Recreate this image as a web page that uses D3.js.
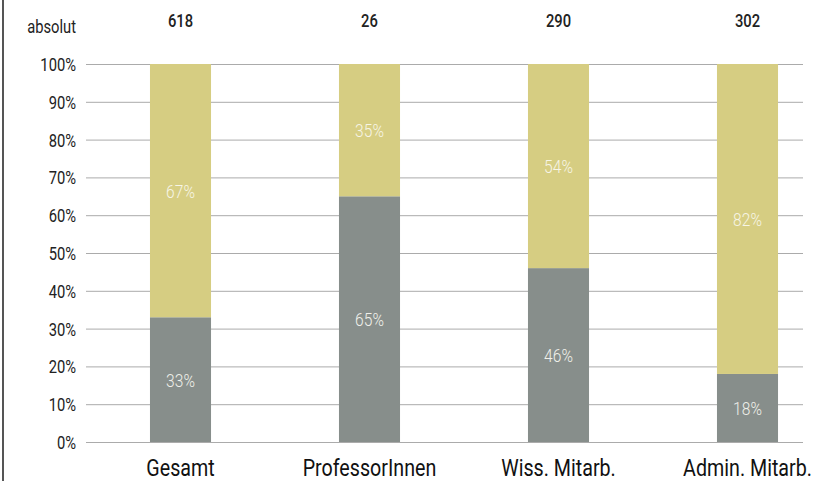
<!DOCTYPE html>
<html><head><meta charset="utf-8">
<script src="https://cdn.jsdelivr.net/npm/d3@7"></script>
<style>body{margin:0;background:#fff}svg{display:block}text{font-family:"Roboto","DejaVu Sans Condensed",sans-serif}</style>
</head><body><svg id="c" width="830" height="481"></svg>
<script>
const categories = ["Gesamt","ProfessorInnen","Wiss. Mitarb.","Admin. Mitarb."];
const absolute = [618, 26, 290, 302];
const lower = [33, 65, 46, 18];
const upper = [67, 35, 54, 82];
const ticks = [0,10,20,30,40,50,60,70,80,90,100];

const SX = 0.82;
const svg = d3.select("#c");
const y = d3.scaleLinear().domain([0,100]).range([442,64]);
const x = d3.scaleBand().domain(categories).range([86,842]).paddingInner(0.677).paddingOuter(0.3385);

svg.append("line").attr("x1",3).attr("x2",3).attr("y1",0).attr("y2",481).attr("stroke","#555").attr("stroke-width",2);

const yAxis = d3.axisLeft(y).tickValues(ticks).tickFormat(d=>d+"%").tickSize(0).tickPadding(0);
const ga = svg.append("g").attr("transform","translate(76,0)").call(yAxis);
ga.select(".domain").remove();
ga.selectAll("text").attr("font-size",18).attr("fill","#222").attr("font-family",null)
  .attr("x",0).attr("dy",null).attr("y",6.5).attr("transform",`scale(${SX},1)`);

svg.append("g").selectAll("line").data(ticks).join("line")
  .attr("x1",86).attr("x2",803).attr("y1",d=>y(d)+0.5).attr("y2",d=>y(d)+0.5)
  .attr("stroke","#ababab").attr("stroke-width",1);

const data = categories.map((c,i)=>({c,a:absolute[i],lo:lower[i],up:upper[i]}));
const g = svg.append("g");
g.selectAll("rect.lo").data(data).join("rect").attr("class","lo")
  .attr("x",d=>x(d.c)).attr("width",x.bandwidth())
  .attr("y",d=>y(d.lo)).attr("height",d=>y(0)-y(d.lo)).attr("fill","#878e8b");
g.selectAll("rect.up").data(data).join("rect").attr("class","up")
  .attr("x",d=>x(d.c)).attr("width",x.bandwidth())
  .attr("y",d=>y(d.lo+d.up)).attr("height",d=>y(d.lo)-y(d.lo+d.up)).attr("fill","#d6cd82");

function ctext(sel, cls, fx, fy, txt, size, fill, weight){
  sel.selectAll("text."+cls).data(data).join("text").attr("class",cls)
    .attr("transform",d=>`translate(${fx(d)},${fy(d)}) scale(${SX},1)`)
    .attr("text-anchor","middle").attr("font-size",size).attr("fill",fill)
    .attr("font-weight",weight||"normal").text(txt);
}
const cx = d=>x(d.c)+x.bandwidth()/2;
ctext(g,"lo",cx,d=>(y(0)+y(d.lo))/2+7,d=>d.lo+"%",19,"#f0f0ea","300");
ctext(g,"up",cx,d=>(y(d.lo)+y(d.lo+d.up))/2+7,d=>d.up+"%",19,"#f7f5e6","300");
ctext(g,"abs",cx,d=>27,d=>d.a,18,"#222","500");
ctext(g,"cat",cx,d=>475.5,d=>d.c,24,"#111","normal");

svg.append("text").attr("transform",`translate(76,33) scale(${SX},1)`).attr("text-anchor","end")
  .attr("font-size",18).attr("fill","#222").text("absolut");
</script></body></html>
